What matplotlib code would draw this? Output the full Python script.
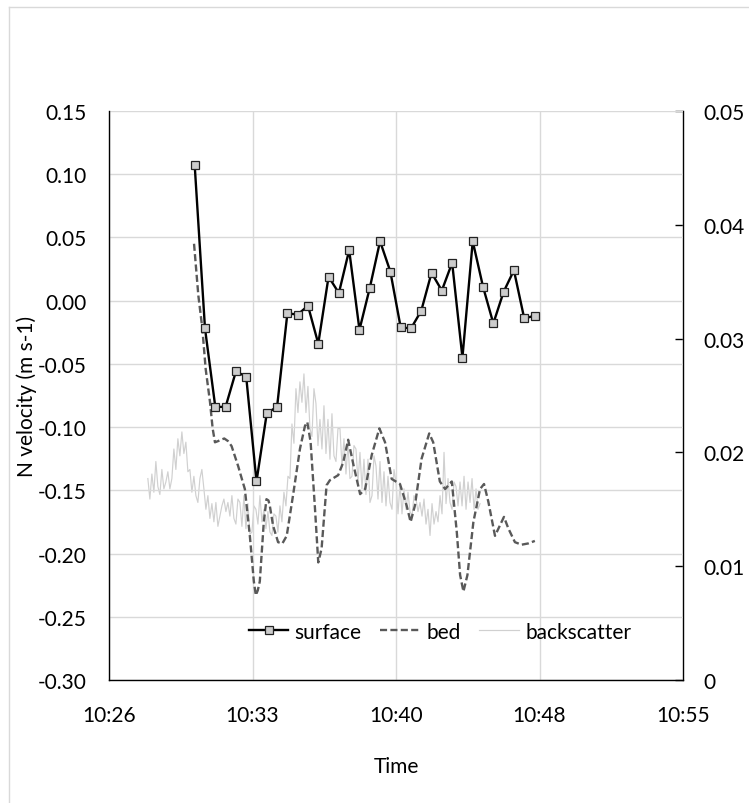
import matplotlib
matplotlib.use("Agg")
import matplotlib.pyplot as plt
import matplotlib.dates as mdates
import matplotlib.ticker as mticker
from matplotlib.lines import Line2D
import pandas as pd

plt.rcParams['font.family'] = ['Lato', 'DejaVu Sans']
plt.rcParams['axes.unicode_minus'] = False

DAY = "2000-01-01 "

# Surface velocity (north component), m s-1
surface_times = [
    "10:30:42", "10:31:13", "10:31:44", "10:32:15", "10:32:46", "10:33:17",
    "10:33:48", "10:34:19", "10:34:50", "10:35:21", "10:35:52", "10:36:23",
    "10:36:54", "10:37:25", "10:37:56", "10:38:27", "10:38:58", "10:39:29",
    "10:40:00", "10:40:31", "10:41:02", "10:41:33", "10:42:04", "10:42:35",
    "10:43:06", "10:43:37", "10:44:08", "10:44:39", "10:45:10", "10:45:41",
    "10:46:12", "10:46:43", "10:47:14", "10:47:45",
]
surface_velocity = [
    0.107, -0.022, -0.084, -0.084, -0.056, -0.060,
    -0.143, -0.089, -0.084, -0.010, -0.011, -0.004,
    -0.034, 0.019, 0.006, 0.040, -0.023, 0.010,
    0.047, 0.023, -0.021, -0.022, -0.008, 0.022,
    0.008, 0.030, -0.045, 0.047, 0.011, -0.018,
    0.007, 0.024, -0.014, -0.012,
]

# Bed velocity (north component), m s-1
bed_times = [
    "10:30:40", "10:30:53", "10:31:05", "10:31:15", "10:31:28", "10:31:36",
    "10:31:43", "10:31:53", "10:32:01", "10:32:11", "10:32:22", "10:32:33",
    "10:32:43", "10:32:53", "10:33:04", "10:33:13", "10:33:28", "10:33:40",
    "10:33:46", "10:33:52", "10:33:58", "10:34:10", "10:34:18", "10:34:24",
    "10:34:28", "10:34:38", "10:34:53", "10:35:06", "10:35:19", "10:35:38",
    "10:35:59", "10:36:14", "10:36:21", "10:36:31", "10:36:44", "10:36:54",
    "10:37:04", "10:37:19", "10:37:29", "10:37:54", "10:38:09", "10:38:24",
    "10:38:40", "10:39:00", "10:39:15", "10:39:35", "10:39:58", "10:40:15",
    "10:40:35", "10:41:00", "10:41:20", "10:41:32", "10:41:45", "10:42:05",
    "10:42:28", "10:42:40", "10:43:00", "10:43:16", "10:43:36", "10:43:51",
    "10:44:01", "10:44:11", "10:44:23", "10:44:41", "10:45:01", "10:45:13",
    "10:45:26", "10:45:46", "10:46:13", "10:46:26", "10:46:46", "10:47:06",
    "10:47:26", "10:47:46",
]
bed_velocity = [
    0.045, 0.004, -0.022, -0.054, -0.080, -0.101,
    -0.112, -0.111, -0.110, -0.109, -0.111, -0.115,
    -0.123, -0.131, -0.141, -0.149, -0.186, -0.222,
    -0.233, -0.229, -0.222, -0.175, -0.157, -0.158,
    -0.162, -0.178, -0.191, -0.192, -0.186, -0.154,
    -0.117, -0.099, -0.096, -0.112, -0.164, -0.207,
    -0.196, -0.146, -0.142, -0.138, -0.128, -0.110,
    -0.130, -0.153, -0.149, -0.122, -0.101, -0.112,
    -0.141, -0.145, -0.162, -0.175, -0.162, -0.125,
    -0.105, -0.112, -0.143, -0.149, -0.143, -0.183,
    -0.217, -0.230, -0.217, -0.175, -0.149, -0.145,
    -0.159, -0.186, -0.171, -0.180, -0.191, -0.193,
    -0.192, -0.190,
]

# Acoustic backscatter, regularly sampled between these two times
backscatter_start = "10:28:21"
backscatter_end = "10:45:01"
backscatter = [
    0.0177, 0.0159, 0.0181, 0.0165, 0.0192, 0.0170, 0.0163, 0.0185, 0.0168, 0.0174,
    0.0183, 0.0168, 0.0177, 0.0203, 0.0185, 0.0212, 0.0197, 0.0218, 0.0199, 0.0209,
    0.0183, 0.0185, 0.0165, 0.0179, 0.0162, 0.0156, 0.0177, 0.0185, 0.0168, 0.0150,
    0.0162, 0.0142, 0.0155, 0.0139, 0.0156, 0.0135, 0.0144, 0.0153, 0.0159, 0.0148,
    0.0156, 0.0144, 0.0162, 0.0142, 0.0137, 0.0159, 0.0156, 0.0135, 0.0162, 0.0133,
    0.0155, 0.0128, 0.0130, 0.0153, 0.0150, 0.0137, 0.0162, 0.0139, 0.0150, 0.0133,
    0.0148, 0.0130, 0.0127, 0.0146, 0.0144, 0.0130, 0.0153, 0.0139, 0.0165, 0.0153,
    0.0179, 0.0177, 0.0225, 0.0208, 0.0256, 0.0235, 0.0262, 0.0244, 0.0269, 0.0235,
    0.0258, 0.0221, 0.0214, 0.0256, 0.0243, 0.0206, 0.0229, 0.0203, 0.0241, 0.0199,
    0.0229, 0.0194, 0.0234, 0.0197, 0.0192, 0.0221, 0.0221, 0.0188, 0.0212, 0.0181,
    0.0208, 0.0177, 0.0179, 0.0206, 0.0203, 0.0174, 0.0200, 0.0168, 0.0194, 0.0163,
    0.0194, 0.0156, 0.0162, 0.0197, 0.0188, 0.0159, 0.0192, 0.0156, 0.0183, 0.0153,
    0.0179, 0.0156, 0.0150, 0.0185, 0.0174, 0.0146, 0.0172, 0.0146, 0.0168, 0.0150,
    0.0165, 0.0148, 0.0144, 0.0162, 0.0159, 0.0148, 0.0156, 0.0144, 0.0159, 0.0137,
    0.0150, 0.0127, 0.0155, 0.0137, 0.0148, 0.0139, 0.0162, 0.0146, 0.0200, 0.0155,
    0.0177, 0.0156, 0.0150, 0.0174, 0.0170, 0.0153, 0.0174, 0.0153, 0.0179, 0.0150,
    0.0174, 0.0156, 0.0177, 0.0150, 0.0168, 0.0150, 0.0155,
]

x_tick_times = ["10:26:24", "10:33:36", "10:40:48", "10:48:00", "10:55:12"]
left_ticks = [-0.30, -0.25, -0.20, -0.15, -0.10, -0.05, 0.00, 0.05, 0.10, 0.15]
right_ticks = [0.0, 0.01, 0.02, 0.03, 0.04, 0.05]


def to_datetimes(times):
    return pd.to_datetime([DAY + t for t in times])


surf_t = to_datetimes(surface_times)
bed_t = to_datetimes(bed_times)
bs_t = pd.date_range(DAY + backscatter_start, DAY + backscatter_end,
                     periods=len(backscatter))
xt = to_datetimes(x_tick_times)

W, H = 749, 804
fig = plt.figure(figsize=(W / 100, H / 100), dpi=100)
L, R, T, B = 109, 683, 112, 681
ax = fig.add_axes([L / W, 1 - B / H, (R - L) / W, (B - T) / H])
ax2 = ax.twinx()
ax.set_zorder(ax2.get_zorder() + 1)
ax.patch.set_visible(False)

FS = 15
GRID = '#d9d9d9'

# backscatter on the secondary axis
bs_line, = ax2.plot(bs_t, backscatter, color='#d0d0d0', lw=0.85,
                    label='backscatter')

bed_line, = ax.plot(bed_t, bed_velocity, color='#595959', lw=1.7,
                    dashes=(3.0, 1.4), label='bed')
surf_line, = ax.plot(surf_t, surface_velocity, color='black', lw=1.7,
                     marker='s', ms=6.3, mfc='#cccccc', mec='#222222',
                     mew=0.9, label='surface')

ax.set_xlim(xt[0], xt[-1])
ax.set_xticks(xt)
ax.xaxis.set_major_formatter(mdates.DateFormatter('%H:%M'))
ax.set_ylim(-0.30, 0.15)
ax.set_yticks(left_ticks)
ax.yaxis.set_major_formatter(mticker.FuncFormatter(lambda v, p: f"{v:.2f}"))
ax.grid(True, color=GRID, lw=1.0)
ax.set_axisbelow(True)
ax.tick_params(axis='both', length=0, labelsize=FS)
ax.tick_params(axis='y', pad=16)
ax.tick_params(axis='x', pad=18)
for s in ('top', 'right'):
    ax.spines[s].set_visible(False)
for s in ('left', 'bottom'):
    ax.spines[s].set_color('black')
    ax.spines[s].set_linewidth(1.0)

ax2.set_ylim(0, 0.05)
ax2.set_yticks(right_ticks)
ax2.yaxis.set_major_formatter(
    mticker.FuncFormatter(lambda v, p: "0" if abs(v) < 1e-12 else f"{v:.2f}"))
ax2.tick_params(axis='y', direction='in', length=6, width=1.0, pad=15,
                labelsize=FS, color='black')
for s in ('top', 'left', 'bottom'):
    ax2.spines[s].set_visible(False)
ax2.spines['right'].set_color('black')
ax2.spines['right'].set_linewidth(1.0)

fig.text(27 / W, 1 - 396.5 / H, "N velocity (m s-1)", rotation=90,
         ha='center', va='center', fontsize=FS)
fig.text((L + R) / 2 / W, 1 - 767 / H, "Time", ha='center', va='center',
         fontsize=FS)

ax.legend(handles=[surf_line, bed_line, bs_line], loc='center',
          bbox_to_anchor=(440 / W, 1 - 632.7 / H),
          bbox_transform=fig.transFigure, ncol=3, frameon=False,
          fontsize=FS, handlelength=1.9, handletextpad=0.3,
          columnspacing=0.9, borderpad=0)

# light chart-area border
fig.add_artist(Line2D([8.5 / W, 1.0], [1 - 7.5 / H, 1 - 7.5 / H],
                      transform=fig.transFigure, color=GRID, lw=1.0))
fig.add_artist(Line2D([8.5 / W, 8.5 / W], [0.0, 1 - 7.5 / H],
                      transform=fig.transFigure, color=GRID, lw=1.0))

fig.savefig("out.png", dpi=100)
